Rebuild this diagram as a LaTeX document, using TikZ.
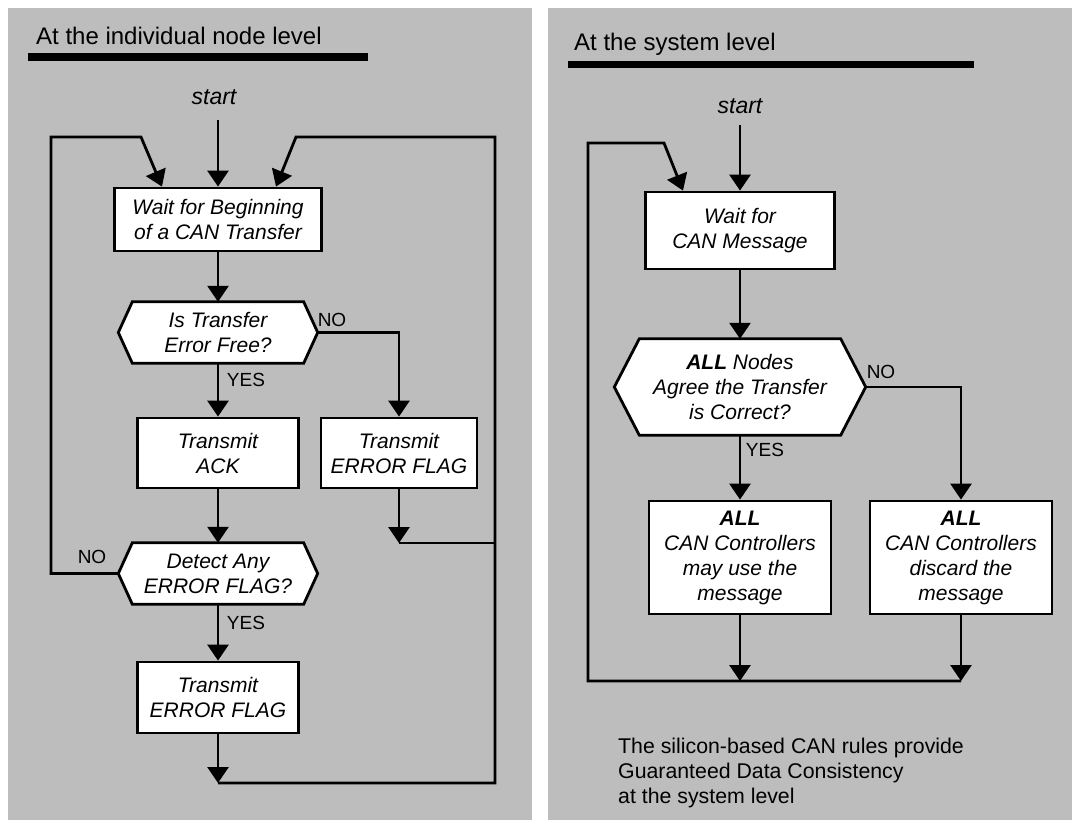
\documentclass[tikz,border=0pt]{standalone}
\usepackage{fontspec}
\setmainfont{Liberation Sans}
\usetikzlibrary{arrows.meta,calc}
\definecolor{panelgray}{RGB}{189,189,189}
\pgfdeclarelayer{panels}
\pgfdeclarelayer{shapes}
\pgfsetlayers{panels,shapes,main}

% hexagonal decision frame drawn around a (borderless) node
\newcommand\hexframe[2]{%
  \begin{pgfonlayer}{shapes}
    \draw[line, fill=white] (#1.west) -- ([xshift=#2]#1.north west)
      -- ([xshift=-#2]#1.north east) -- (#1.east)
      -- ([xshift=-#2]#1.south east) -- ([xshift=#2]#1.south west) -- cycle;
  \end{pgfonlayer}}

\begin{document}
\begin{tikzpicture}[x=1bp, y=-1bp,
  line/.style={line width=2.8bp, line join=miter},
  flow/.style={line, -{Triangle[length=16bp, width=21bp]}},
  boxfont/.style={font=\fontsize{21bp}{25bp}\selectfont\itshape},
  procbox/.style={draw, line width=2.8bp, fill=white, align=center, inner sep=0pt, boxfont},
  decnode/.style={align=center, inner sep=0pt, boxfont},
  lbl/.style={font=\fontsize{19bp}{22bp}\selectfont, inner sep=0pt},
  title/.style={font=\fontsize{24bp}{28bp}\selectfont, anchor=base west, inner sep=0pt},
  startlbl/.style={font=\fontsize{23bp}{27bp}\selectfont\itshape, anchor=base, inner sep=0pt},
  note/.style={font=\fontsize{21.3bp}{25bp}\selectfont, align=left, anchor=north west, inner sep=0pt}]

\useasboundingbox (0,0) rectangle (1079,825);

% panels and heading bars
\begin{pgfonlayer}{panels}
  \fill[panelgray] (8,8) rectangle (532,820);
  \fill[panelgray] (548,8) rectangle (1072,820);
\end{pgfonlayer}
\fill (28,53) rectangle (368,61);
\fill (568,61) rectangle (974,68);
\node[title] (t1) at (36,44) {At the individual node level};
\node[title] (t2) at (574,50) {At the system level};

% ---------- individual node level ----------
\node[startlbl] (start1) at (214,104) {start};
\coordinate (s1) at (218,120);
\node[procbox, minimum width=207bp, minimum height=63bp] (wait1) at (218,219.5) {Wait for Beginning\\of a CAN Transfer};
\node[decnode, minimum width=199bp, minimum height=61bp] (dec1) at (218,332.5) {Is Transfer\\Error Free?};
\hexframe{dec1}{14bp}
\node[procbox, minimum width=161bp, minimum height=70bp] (ack) at (218,453) {Transmit\\ACK};
\node[procbox, minimum width=156bp, minimum height=70bp] (errA) at (399,453) {Transmit\\ERROR FLAG};
\node[decnode, minimum width=199bp, minimum height=61bp] (dec2) at (218,573.5) {Detect Any\\ERROR FLAG?};
\hexframe{dec2}{14bp}
\node[procbox, minimum width=161bp, minimum height=71bp] (errB) at (218,697.5) {Transmit\\ERROR FLAG};

\coordinate (jA) at (399,543);
\coordinate (jB) at (218,783);

\draw[flow] (s1) -- (wait1.north);
\draw[flow] (wait1.south) -- (dec1.north);
\draw[flow] (dec1.south) -- (ack.north);
\draw[flow] (dec1.east) -- (errA.north |- dec1.east) -- (errA.north);
\draw[flow] (ack.south) -- (dec2.north);
\draw[flow] (dec2.south) -- (errB.north);
\draw[flow] (errA.south) -- (jA);
\draw[flow] (errB.south) -- (jB);
\draw[flow] (dec2.west) -- (51,573.5) -- (51,137) -- (141,137) -- ([xshift=-56bp]wait1.north);
\draw[line] (jA) -- (495,543);
\draw[flow] (jB) -- (495,783) -- (495,137) -- (296,137) -- ([xshift=58bp]wait1.north);

\node[lbl] (no1) at (332,320) {NO};
\node[lbl] (yes1) at (246,380) {YES};
\node[lbl] (no2) at (92,557) {NO};
\node[lbl] (yes2) at (246,623) {YES};

% ---------- system level ----------
\node[startlbl] (start2) at (740,113) {start};
\coordinate (s2) at (740,125);
\node[procbox, minimum width=189bp, minimum height=77bp] (wait2) at (740,230.5) {Wait for\\CAN Message};
\node[decnode, minimum width=251bp, minimum height=96bp] (dec3) at (740,387) {\textbf{ALL} Nodes\\Agree the Transfer\\is Correct?};
\hexframe{dec3}{25bp}
\node[procbox, minimum width=182bp, minimum height=113bp] (useL) at (740,557.5) {\textbf{ALL}\\CAN Controllers\\may use the\\message};
\node[procbox, minimum width=182bp, minimum height=113bp] (disc) at (961,557.5) {\textbf{ALL}\\CAN Controllers\\discard the\\message};

\coordinate (jC) at (740,681);
\coordinate (jD) at (961,681);

\draw[flow] (s2) -- (wait2.north);
\draw[flow] (wait2.south) -- (dec3.north);
\draw[flow] (dec3.south) -- (useL.north);
\draw[flow] (dec3.east) -- (disc.north |- dec3.east) -- (disc.north);
\draw[flow] (useL.south) -- (jC);
\draw[flow] (disc.south) -- (jD);
\draw[flow] (jD) -- (588,681) -- (588,143) -- (664,143) -- ([xshift=-57bp]wait2.north);

\node[lbl] (no3) at (881,372) {NO};
\node[lbl] (yes3) at (765,450) {YES};

\node[note] (summary) at (618,737.5) {The silicon-based CAN rules provide\\Guaranteed Data Consistency\\at the system level};

\end{tikzpicture}
\end{document}
